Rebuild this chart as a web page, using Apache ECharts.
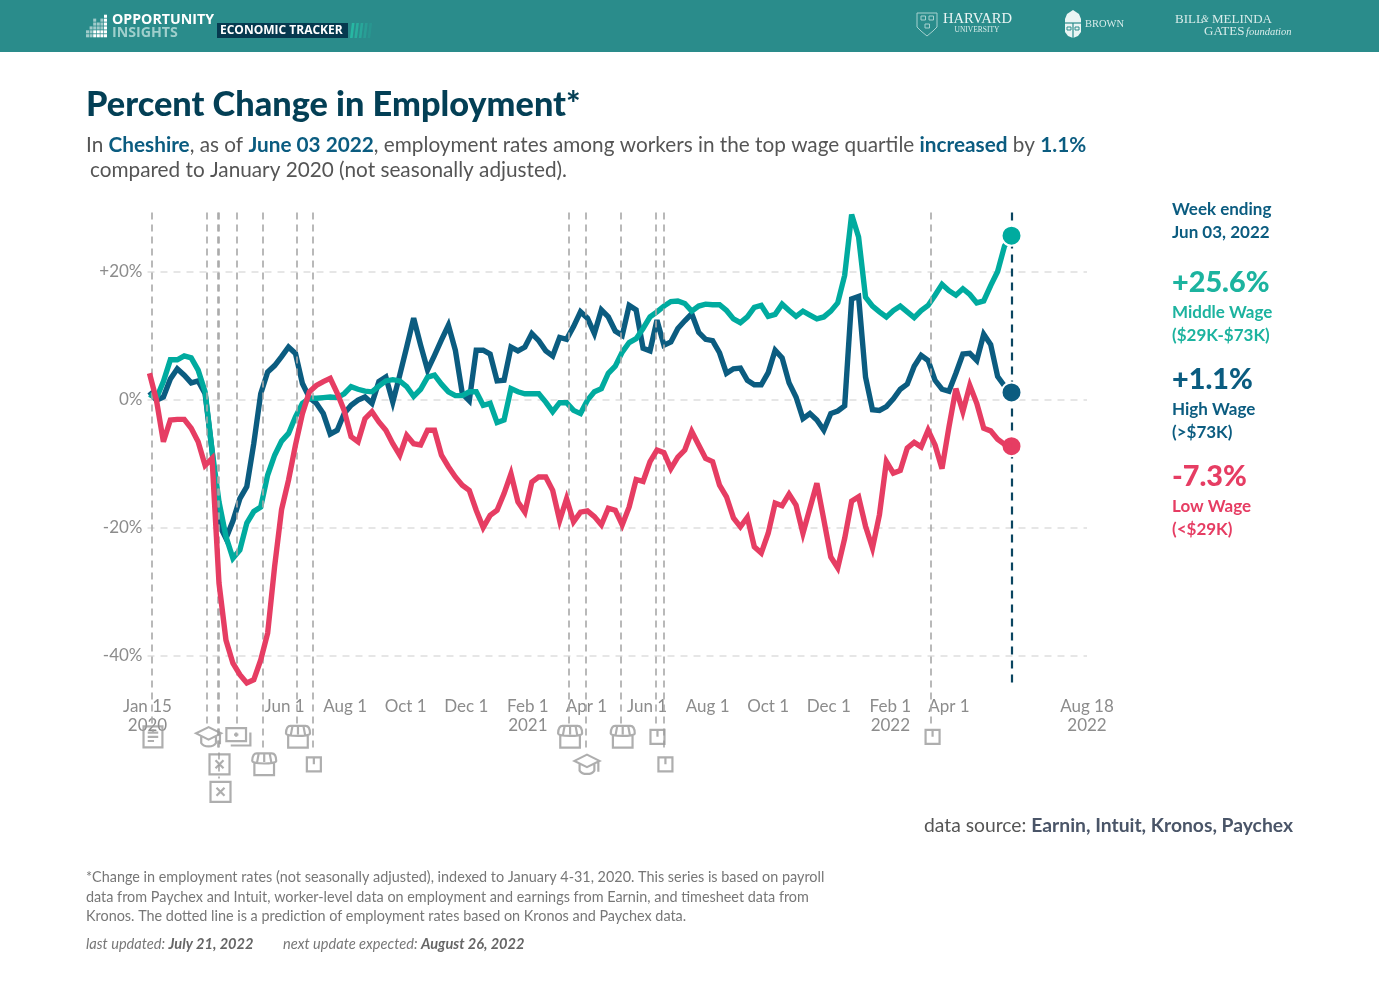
<!DOCTYPE html>
<html><head><meta charset="utf-8">
<style>html,body{margin:0;padding:0;background:#fff}#c{width:1379px;height:990px}</style>
<script src="https://cdn.jsdelivr.net/npm/echarts@6/dist/echarts.min.js"></script>
</head><body><div id="c"></div>
<script>
const startWeek = '2020-01-17';
const highWage = [1.2,-0.1,0.4,3.2,4.8,3.8,2.6,2.9,0.9,-8,-19.5,-21.7,-19,-15.5,-13.6,-6.9,0.9,4.3,5.3,6.7,8.2,7.2,2.5,0.3,-0.6,-2.2,-5.4,-4.8,-2.2,-0.9,-0.1,0.4,-0.6,2.8,3.5,-0.4,3.8,8.2,12.7,8.5,4.6,6.9,9.3,11.6,7.7,0.9,-0.2,7.7,7.7,7.1,2.9,3,8.2,7.6,8.2,10.3,9.2,7.6,6.8,9.7,9.4,11.4,13.7,12.7,10.3,14,12.9,10.7,10,14.7,14,8,7.6,12.4,8.5,9,11.1,12.3,13.4,10.5,9.4,9.2,7.3,4.1,4.8,4.9,3,2.3,2.3,4.2,7.7,6.5,2.6,0.4,-3,-2.2,-3.2,-4.8,-2.2,-1.8,-1,15.7,16.1,3.5,-1.6,-1.7,-1.1,0.1,1.6,2.4,5.2,6.9,6.1,3,1.6,1.3,4.1,7.1,7.2,6.1,10.2,8.6,3.6,2.1,1.1];
const middleWage = [0.8,0.2,2.8,6.2,6.2,6.8,6.5,4.6,1.2,-7.9,-16,-21.4,-24.8,-23.5,-19.3,-17.5,-16.8,-11.8,-8.7,-6.5,-5.3,-2.7,-0.6,0.2,0.2,0.3,0.4,0.3,0.9,2,1.6,1.3,1.2,2.1,2.9,3.1,2.9,2,0.5,1.6,3.5,3.8,2.4,1.2,0.6,0.6,1.2,1.2,-0.9,-0.6,-3.6,-3.2,1.7,1.2,0.9,0.9,0.9,-0.4,-1.9,-0.5,-0.5,-1.7,-2.2,-0.1,1.2,1.7,4.1,5.2,7.4,8.9,9.5,11.1,12.9,13.7,14.6,15.3,15.4,15,13.8,14.6,14.9,14.8,14.8,13.9,12.6,12,12.9,14.4,14.7,13,13.3,14.9,13.9,13,13.8,13.2,12.6,12.9,13.8,15.1,19.4,28.9,25.4,16,14.6,13.7,12.9,13.9,14.6,13.7,12.8,13.9,14.7,16.3,18,17,16.3,17.3,16.4,15.1,15.4,17.8,20,24,25.6];
const lowWage = [4.1,-0.1,-6.6,-3.2,-3.1,-3.1,-4.5,-6.6,-10.3,-9.2,-28.7,-37.6,-41.2,-43,-44.3,-43.8,-40.7,-36.5,-26.1,-17.2,-12.6,-7.1,-2.2,1.2,2.2,2.8,3.3,1,-1.7,-5.8,-6.6,-3,-1.9,-3.5,-4.8,-6.9,-8.7,-5.6,-6.9,-7.1,-4.8,-4.8,-8.7,-10.5,-12.1,-13.4,-14.2,-17.3,-20,-18.1,-17.3,-14.7,-11.6,-16,-17.6,-12.9,-12.1,-12.1,-14.2,-18.9,-15.5,-19.1,-17.6,-17.4,-18.3,-19.6,-17,-17.3,-19.6,-16.8,-12.5,-12.8,-9.7,-7.9,-8.3,-10.8,-9,-7.9,-5,-7.1,-9.2,-9.7,-13.4,-15.2,-18.5,-19.9,-18.4,-23,-24,-20.9,-16.2,-16.6,-14.8,-16.5,-20.9,-17,-13.1,-18.8,-24.6,-26.3,-21.7,-15.9,-15.2,-19.8,-23.2,-18,-9.7,-11.5,-11.1,-7.6,-6.7,-7.4,-4.8,-7.1,-10.8,-4.3,1.7,-1.9,2.2,-0.6,-4.5,-4.9,-6.2,-7,-7.3];
const yTicks = [-40,-20,0,20];
const xTickDates = ['2020-01-15','2020-06-01','2020-08-01','2020-10-01','2020-12-01','2021-02-01','2021-04-01','2021-06-01','2021-08-01','2021-10-01','2021-12-01','2022-02-01','2022-04-01','2022-08-18'];
const xTickLabels = ['Jan 15\n2020','Jun 1','Aug 1','Oct 1','Dec 1','Feb 1\n2021','Apr 1','Jun 1','Aug 1','Oct 1','Dec 1','Feb 1\n2022','Apr 1','Aug 18\n2022'];
const eventDates = ['2020-01-19','2020-03-15','2020-03-26','2020-03-27','2020-04-14','2020-05-10','2020-06-13','2020-06-29','2021-03-14','2021-03-31','2021-05-06','2021-06-10','2021-06-18','2022-03-14'];
const eventIcons = ['news','cap','close','close','money','store','store','box','store','cap','store','box','box','box'];
const eventRows = [0,0,1,2,0,1,0,1,0,1,0,0,1,0];
const rowValues = [-52.7,-57,-61.3];
const rowLineEnds = [-50.8,-55,-59.2];
const latestDate = '2022-06-03';

const FONT = 'Lato, "Noto Sans", sans-serif';
const ts = s => Date.parse(s + 'T00:00:00Z');
const weekDates = highWage.map((_, i) => ts(startWeek) + 7 * 86400000 * i);
const zip = a => a.map((v, i) => [weekDates[i], v]);
const iconPaths = {
  news: 'path://M3 2H21V22H3ZM7 8H17M7 12H17M7 16H13M12 5V8',
  cap: 'path://M12 4L1 9.5L12 15L23 9.5ZM5.5 12V18C8 22 16 22 18.5 18V12M22 10V19',
  money: 'path://M1 3H19V15H1ZM23 7V19H5M10 7V11M8 9H12',
  store: 'path://M3 11V22H21V11M1 9C1 4 3 2 5 2H19C21 2 23 4 23 9C23 12 1 12 1 9ZM7 2L5.5 10M12 2V10M17 2L18.5 10',
  close: 'path://M2 2H22V22H2ZM8 8L16 16M16 8L8 16',
  box: 'path://M3 3H21V21H3ZM12 3V12'
};
const iconSizes = {news:21, cap:25, money:24, store:24, close:20, box:14};

function T(x, y, text, size, color, weight, family, extra) {
  return {type:'text', x, y, silent:true, style:Object.assign({text, fontSize:size, fill:color, fontWeight:weight||'normal', fontFamily:family||FONT, textVerticalAlign:'middle'}, extra||{})};
}
const BLUE='#0b5c80', TEAL='#00ab9f', RED='#e63d63', SERIF='"Liberation Serif", serif';
const g = [];
g.push({type:'rect', shape:{x:0,y:0,width:1379,height:52}, style:{fill:'#2a8c8b'}, silent:true});
const bars=[2,3,5,4,5,6];
bars.forEach((h,c)=>{for(let r=0;r<h;r++){g.push({type:'rect',shape:{x:86+c*3.6,y:34.2-r*3.9,width:3,height:3.1},style:{fill:'#fff',opacity:(c===5||r<2&&c>1)?1:.55},silent:true});}});
g.push(T(112,19.5,'OPPORTUNITY',14.2,'#fff','bold','"Open Sans",sans-serif'));
g.push(T(112,33,'INSIGHTS',14.2,'#9fcfcc','bold','"Open Sans",sans-serif'));
g.push({type:'rect',shape:{x:217,y:23,width:131,height:15},style:{fill:'#06394f'},silent:true});
g.push(T(220,30.8,'ECONOMIC TRACKER',12,'#fff','bold','"Open Sans",sans-serif'));
[0,1,2,3,4].forEach(i=>g.push({type:'polygon',shape:{points:[[350+i*4.4,38],[352.6+i*4.4,38],[354.5+i*4.4,23],[351.9+i*4.4,23]]},style:{fill:'#27b8a3',opacity:1-i*.19},silent:true}));
const HS={fill:'none',stroke:'#a6d1cf',lineWidth:1};
g.push({type:'polygon',shape:{points:[[917,13],[937,13],[937,27],[933,31],[927,36],[921,31],[917,27]]},style:HS,silent:true});
[[921,16],[929,16],[925,24]].forEach(p=>g.push({type:'rect',shape:{x:p[0],y:p[1],width:4.5,height:4},style:HS,silent:true}));
g.push(T(943,19.5,'HARVARD',14.6,'#eaf5f4','normal',SERIF));
g.push(T(954.5,30,'UNIVERSITY',7.5,'#d8ecea','normal',SERIF));
g.push({type:'polygon',shape:{points:[[1065,19],[1067,14],[1073,10],[1079,14],[1081,19],[1081,32],[1078,36],[1073,38],[1068,36],[1065,32]]},style:{fill:'#eaf5f4'},silent:true});
[[1064,23,1082,23],[1073,23,1073,38]].forEach(l=>g.push({type:'line',shape:{x1:l[0],y1:l[1],x2:l[2],y2:l[3]},style:{stroke:'#2a8c8b',lineWidth:1.2},silent:true}));
[[1067,27],[1075,27]].forEach(p=>g.push({type:'rect',shape:{x:p[0],y:p[1],width:4,height:3},style:{fill:'none',stroke:'#2a8c8b',lineWidth:1},silent:true}));
g.push(T(1085,24.5,'BROWN',10.5,'#d8ecea','normal',SERIF));
g.push(T(1175,19.5,'BILL',13,'#d8ecea','normal',SERIF));
g.push(T(1201,19.5,'&',10,'#d8ecea','normal',SERIF,{fontStyle:'italic'}));
g.push(T(1212,19.5,'MELINDA',13,'#d8ecea','normal',SERIF));
g.push(T(1204,32,'GATES',13,'#d8ecea','normal',SERIF));
g.push(T(1246,32,'foundation',10.5,'#d8ecea','normal',SERIF,{fontStyle:'italic'}));
g.push(T(86,105,'Percent Change in Employment*',34.3,'#033f55','900'));
g.push(T(86,145,'{a|In }{b|Cheshire}{a|, as of }{b|June 03 2022}{a|, employment rates among workers in the top wage quartile }{b|increased}{a| by }{b|1.1%}',20.75,'#555','normal',FONT,{rich:{a:{fontSize:20.75,fill:'#555',fontFamily:FONT},b:{fontSize:20.75,fill:BLUE,fontWeight:'bold',fontFamily:FONT}}}));
g.push(T(90,170,'compared to January 2020 (not seasonally adjusted).',20.75,'#555'));
g.push(T(1172,210,'Week ending',17,BLUE,'bold'));
g.push(T(1172,233,'Jun 03, 2022',17,BLUE,'bold'));
g.push(T(1172,283,'+25.6%',28.8,'#1cb39f','900'));
g.push(T(1172,313,'Middle Wage',17,'#1cb39f','bold'));
g.push(T(1172,336,'($29K-$73K)',17,'#1cb39f','bold'));
g.push(T(1172,380,'+1.1%',28.8,BLUE,'900'));
g.push(T(1172,410,'High Wage',17,BLUE,'bold'));
g.push(T(1172,433,'(>$73K)',17,BLUE,'bold'));
g.push(T(1172,477,'-7.3%',28.8,RED,'900'));
g.push(T(1172,507,'Low Wage',17,RED,'bold'));
g.push(T(1172,530,'(<$29K)',17,RED,'bold'));
g.push(T(1293,826,'{a|data source: }{b|Earnin, Intuit, Kronos, Paychex}',19.3,'#555','normal',FONT,{textAlign:'right',rich:{a:{fontSize:19.3,fill:'#555',fontFamily:FONT},b:{fontSize:19.3,fill:'#4a5568',fontWeight:'bold',fontFamily:FONT}}}));
g.push(T(86,877,'*Change in employment rates (not seasonally adjusted), indexed to January 4-31, 2020. This series is based on payroll',14.4,'#777'));
g.push(T(86,897,'data from Paychex and Intuit, worker-level data on employment and earnings from Earnin, and timesheet data from',14.4,'#777'));
g.push(T(86,916,'Kronos. The dotted line is a prediction of employment rates based on Kronos and Paychex data.',14.4,'#777'));
const it={fontSize:14.6,fill:'#777',fontStyle:'italic',fontFamily:FONT}, itb={fontSize:14.6,fill:'#666',fontStyle:'italic',fontWeight:'bold',fontFamily:FONT};
g.push(T(86,944,'{a|last updated: }{b|July 21, 2022}',14.6,'#777','normal',FONT,{rich:{a:it,b:itb}}));
g.push(T(283,944,'{a|next update expected: }{b|August 26, 2022}',14.6,'#777','normal',FONT,{rich:{a:it,b:itb}}));

function lineSeries(name, arr, color, z) {
  return {name, type:'line', data:zip(arr), showSymbol:false, symbol:'none', clip:false, z, silent:true,
    lineStyle:{color, width:5.4, join:'miter', miterLimit:4, cap:'butt'},
    markPoint:{silent:true, animation:false, label:{show:false}, symbol:'circle', symbolSize:20, itemStyle:{color,borderColor:'#fff',borderWidth:2},
      data:[{coord:[ts(latestDate), arr[arr.length-1]]}]}};
}
const eventLines = eventDates.map((d,i)=>[{xAxis:ts(d),yAxis:29.2},{xAxis:ts(d),yAxis:rowLineEnds[eventRows[i]]}]);
const tickTs = xTickDates.map(ts);
const option = {
  animation:false, backgroundColor:'#fff', graphic:{elements:g},
  grid:{left:147.5, width:939.5, top:143.5, height:640, containLabel:false},
  xAxis:{type:'value', min:tickTs[0], max:tickTs[tickTs.length-1], offset:-86, scale:true,
    axisLine:{show:false}, axisTick:{show:false}, splitLine:{show:false},
    axisLabel:{customValues:tickTs, color:'#8c8c8c', fontSize:17, fontFamily:FONT, lineHeight:19, margin:0, hideOverlap:false, showMinLabel:true, showMaxLabel:true,
      formatter:v=>{const i=tickTs.indexOf(v);return i<0?'':xTickLabels[i];}}},
  yAxis:{type:'value', min:-60, max:40, interval:20, axisLine:{show:false}, axisTick:{show:false},
    splitLine:{show:true, showMinLine:false, showMaxLine:false, lineStyle:{color:'#dedede', width:1.5, type:[7,6]}},
    axisLabel:{margin:5, color:'#8c8c8c', fontSize:17, fontFamily:FONT,
      formatter:v=>yTicks.includes(v)?((v>0?'+':'')+v+'%'):''}},
  series:[
    {name:'events', type:'line', data:[], z:1, silent:true, clip:false,
      markLine:{silent:true, animation:false, symbol:'none', label:{show:false},
        lineStyle:{color:'#a8a8a8', width:1.6, type:[7,5]}, data:eventLines}},
    {name:'latest', type:'line', data:[], z:1, silent:true, clip:false,
      markLine:{silent:true, animation:false, symbol:'none', label:{show:false},
        lineStyle:{color:'#0a4560', width:2.2, type:[8,6]}, data:[[{xAxis:ts(latestDate),yAxis:29.2},{xAxis:ts(latestDate),yAxis:-44.7}]]}},
    lineSeries('High Wage', highWage, BLUE, 3),
    lineSeries('Middle Wage', middleWage, TEAL, 4),
    lineSeries('Low Wage', lowWage, RED, 5),
    {name:'icons', type:'scatter', z:6, clip:false, silent:true,
      data:eventDates.map((d,i)=>({value:[ts(d),rowValues[eventRows[i]]], symbol:iconPaths[eventIcons[i]], symbolKeepAspect:true, symbolSize:iconSizes[eventIcons[i]], symbolOffset:[1.5,0]})),
      itemStyle:{color:'rgba(0,0,0,0)', borderColor:'#9a9a9a', borderWidth:2.2}}
  ]
};
echarts.init(document.getElementById('c'), null, {renderer:'canvas'}).setOption(option);
</script></body></html>
